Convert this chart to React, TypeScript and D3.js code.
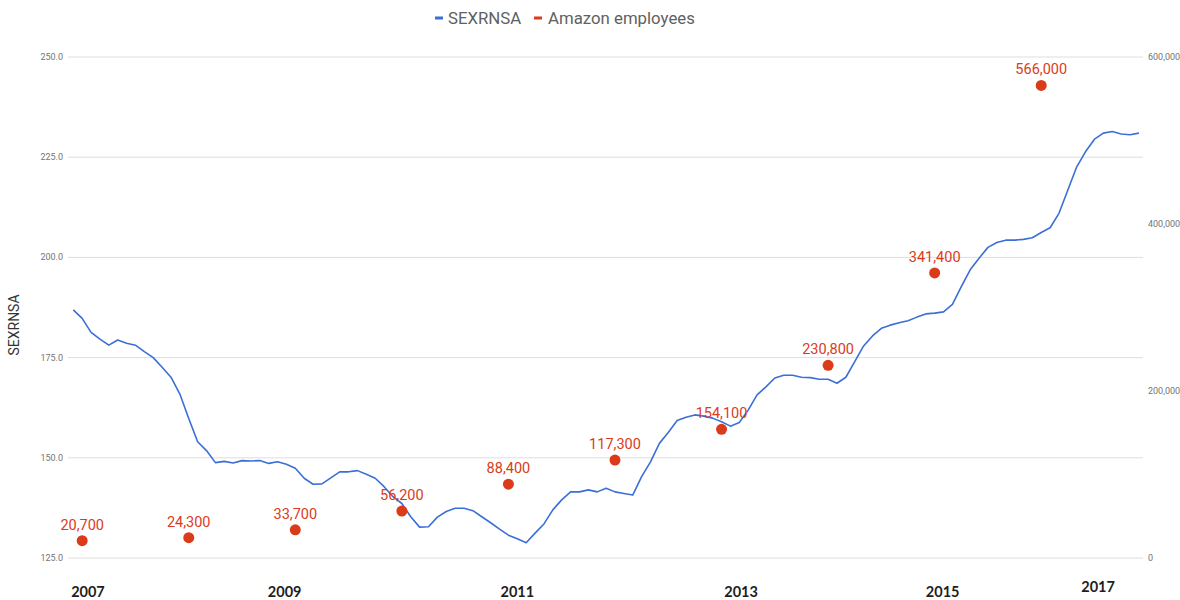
import React from "react";
import * as d3 from "d3";

// monthly SEXRNSA index, Jan 2007 onward
const sexrnsa = [
  186.9, 184.8, 181.3, 179.6, 178.1, 179.4, 178.6, 178.1, 176.5, 175.0, 172.6, 170.1,
  165.9, 159.8, 154.0, 151.8, 148.8, 149.1, 148.7, 149.3, 149.2, 149.3, 148.6, 149.0,
  148.4, 147.4, 144.9, 143.4, 143.5, 145.0, 146.5, 146.5, 146.8, 145.9, 144.9, 142.8,
  140.3, 138.6, 135.3, 132.7, 132.8, 135.2, 136.6, 137.4, 137.4, 136.8, 135.3, 133.8,
  132.2, 130.7, 129.8, 128.8, 131.2, 133.5, 137.0, 139.5, 141.5, 141.5, 142.0, 141.5,
  142.4, 141.5, 141.1, 140.7, 145.3, 149.0, 153.6, 156.3, 159.3, 160.1, 160.7, 160.4,
  159.9, 159.0, 157.9, 158.8, 161.9, 165.7, 167.7, 169.9, 170.6, 170.6, 170.1, 170.0,
  169.6, 169.6, 168.6, 170.1, 174.0, 177.9, 180.4, 182.3, 183.1, 183.7, 184.2, 185.1,
  185.9, 186.1, 186.4, 188.3, 192.7, 196.9, 199.8, 202.5, 203.7, 204.3, 204.3, 204.5,
  204.9, 206.2, 207.4, 211.0, 216.8, 222.6, 226.4, 229.5, 231.0, 231.4, 230.8, 230.6,
  231.0,
];

const employeeMonths = ["2007-02", "2008-02", "2009-02", "2010-02", "2011-02", "2012-02", "2013-02", "2014-02", "2015-02", "2016-02"];
const employees = [20700, 24300, 33700, 56200, 88400, 117300, 154100, 230800, 341400, 566000];

const leftTicks = [125, 150, 175, 200, 225, 250];
const rightTicks = [0, 200000, 400000, 600000];

// year labels, placed (in months from Jan 2007) where the picture has them
const yearLabels = ["2007", "2009", "2011", "2013", "2015", "2017"];
const yearLabelMonths = [1.65, 23.8, 50, 75.2, 97.9, 115.4];
const yearLabelRaise = [0, 0, 0, 0, 0, 5];

const BLUE = "#3b6fd6";
const RED = "#dc3b1a";

const App = () => {
  const width = 1180;
  const height = 600;
  const plotLeft = 68;
  const plotRight = 1143;

  const start = d3.timeParse("%Y-%m")("2007-01") as Date;
  const x = d3.scaleLinear().domain([0, sexrnsa.length - 1]).range([73.3, 1138.9]);
  const yL = d3.scaleLinear().domain([125, 250]).range([558, 57]);
  const yR = d3.scaleLinear().domain([0, 600000]).range([558, 57]);

  const line = d3
    .line<number>()
    .x((d, i) => x(i))
    .y(d => yL(d));

  const fmtL = d3.format(".1f");
  const fmtR = d3.format(",");

  const dots = employees.map((v, i) => {
    const dt = d3.timeParse("%Y-%m")(employeeMonths[i]) as Date;
    return { v, m: d3.timeMonth.count(start, dt) };
  });

  return (
    <svg
      width={width}
      height={height}
      style={{ position: "absolute", left: 0, top: 0, background: "#fff" }}
      fontFamily="Roboto, Arial, sans-serif"
    >
      {/* legend */}
      <g>
        <rect x={435} y={16.5} width={8} height={3} fill={BLUE} />
        <text x={448} y={24} fontSize={16.8} fill="#616161">SEXRNSA</text>
        <rect x={534} y={16.5} width={8} height={3} fill={RED} />
        <text x={548} y={24} fontSize={16.8} fill="#616161">Amazon employees</text>
      </g>

      {/* gridlines + left axis */}
      {leftTicks.map(t => (
        <g key={t}>
          <line x1={plotLeft} x2={plotRight} y1={yL(t)} y2={yL(t)} stroke="#dedede" strokeWidth={1} />
          <text x={63} y={yL(t) + 3} fontSize={9} fill="#757575" textAnchor="end">
            {fmtL(t)}
          </text>
        </g>
      ))}

      {/* right axis */}
      {rightTicks.map(t => (
        <text key={t} x={1148} y={yR(t) + 3} fontSize={9} fill="#757575">
          {fmtR(t)}
        </text>
      ))}

      <text
        transform={`translate(19 ${325}) rotate(-90)`}
        fontSize={14}
        fill="#333"
        textAnchor="middle"
      >
        SEXRNSA
      </text>

      {/* year labels */}
      {yearLabels.map((lab, i) => (
        <text
          key={lab}
          x={x(yearLabelMonths[i])}
          y={597 - yearLabelRaise[i]}
          fontFamily="Lato, 'Open Sans', sans-serif"
          fontWeight="bold"
          fontSize={14.5}
          fill="#1e1e1e"
          textAnchor="middle"
        >
          {lab}
        </text>
      ))}

      {/* SEXRNSA line */}
      <path d={line(sexrnsa) || ""} fill="none" stroke={BLUE} strokeWidth={1.6} strokeLinejoin="round" />

      {/* Amazon employees */}
      {dots.map(d => (
        <g key={d.v}>
          <circle cx={x(d.m)} cy={yR(d.v)} r={5.5} fill={RED} />
          <text
            x={x(d.m)}
            y={yR(d.v) - 11}
            fontSize={14.5}
            fill={RED}
            textAnchor="middle"
          >
            {fmtR(d.v)}
          </text>
        </g>
      ))}
    </svg>
  );
};

export default App;
